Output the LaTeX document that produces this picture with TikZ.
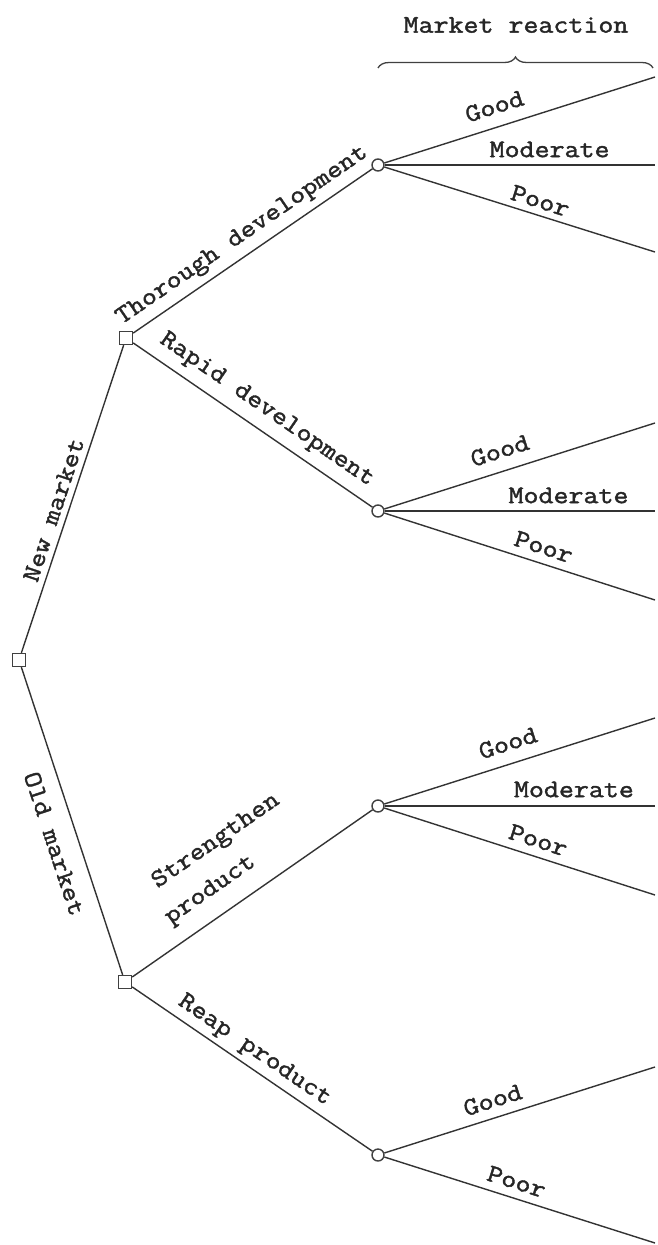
\documentclass[tikz,border=0pt]{standalone}
\usepackage{fontspec}
\newfontfamily\lblfont{Latin Modern Mono}[FakeStretch=1.15, FakeBold=1.6]
\usetikzlibrary{decorations.pathreplacing}
\begin{document}
\begin{tikzpicture}[x=1pt,y=-1pt,
  every node/.style={font=\lblfont\fontsize{25.3}{37}\selectfont, text=black!85},
  decision/.style={draw=black!75, line width=1.4pt, fill=white, rectangle, minimum size=13pt, inner sep=0pt},
  chance/.style={draw=black!75, line width=1.4pt, fill=white, circle, minimum size=12pt, inner sep=0pt},
  branch/.style={draw=black!80, line width=1.4pt},
  lbl/.style={sloped, inner sep=0pt}
]
\fill[white] (0,0) rectangle (657,1245);
\useasboundingbox (0,0) rectangle (657,1245);

% decision and chance nodes
\node[decision] (root) at (19,660) {};
\node[decision] (d1) at (126,338) {};
\node[decision] (d2) at (125,982) {};
\node[chance] (c1) at (378,165) {};
\node[chance] (c2) at (378,511) {};
\node[chance] (c3) at (378,806) {};
\node[chance] (c4) at (378,1155) {};

% end points
\coordinate (g1) at (655,77);
\coordinate (m1) at (655,165);
\coordinate (p1) at (655,252);
\coordinate (g2) at (655,423);
\coordinate (m2) at (655,511);
\coordinate (p2) at (655,600);
\coordinate (g3) at (655,718);
\coordinate (m3) at (655,806);
\coordinate (p3) at (655,895);
\coordinate (g4) at (655,1067);
\coordinate (p4) at (655,1243);

% header
\node (hdr) at (516,25) {Market reaction};
\coordinate (brL) at (378,68);
\coordinate (brR) at (653,68);
\draw[decorate, decoration={brace, amplitude=11pt}, draw=black!75, line width=1.3pt] (brL) -- (brR);

% first level
\draw[branch] (root) -- node[lbl, pos=0.45, above=6pt] {New market} (d1);
\draw[branch] (root) -- node[lbl, pos=0.55, below=15pt] {Old market} (d2);

% second level
\draw[branch] (d1) -- node[lbl, pos=0.5, above=7pt] {Thorough development} (c1);
\draw[branch] (d1) -- node[lbl, pos=0.51, above=9pt] {Rapid development} (c2);
\draw[branch] (d2) -- node[lbl, pos=0.5, above=15pt, align=left] {Strengthen\\\hspace*{-10pt}product} (c3);
\draw[branch] (d2) -- node[lbl, pos=0.47, above=5pt] {Reap product} (c4);

% outcomes
\draw[branch] (c1) -- node[lbl, pos=0.43, above=12pt] {Good} (g1);
\draw[branch] (c1) -- node[lbl, pos=0.61, above=7pt] {Moderate} (m1);
\draw[branch] (c1) -- node[lbl, pos=0.56, above=6pt] {Poor} (p1);

\draw[branch] (c2) -- node[lbl, pos=0.45, above=12pt] {Good} (g2);
\draw[branch] (c2) -- node[lbl, pos=0.68, above=7pt] {Moderate} (m2);
\draw[branch] (c2) -- node[lbl, pos=0.57, above=8pt] {Poor} (p2);

\draw[branch] (c3) -- node[lbl, pos=0.48, above=12pt] {Good} (g3);
\draw[branch] (c3) -- node[lbl, pos=0.70, above=8pt] {Moderate} (m3);
\draw[branch] (c3) -- node[lbl, pos=0.55, above=8pt] {Poor} (p3);

\draw[branch] (c4) -- node[lbl, pos=0.42, above=9pt] {Good} (g4);
\draw[branch] (c4) -- node[lbl, pos=0.47, above=8pt] {Poor} (p4);
\end{tikzpicture}
\end{document}
